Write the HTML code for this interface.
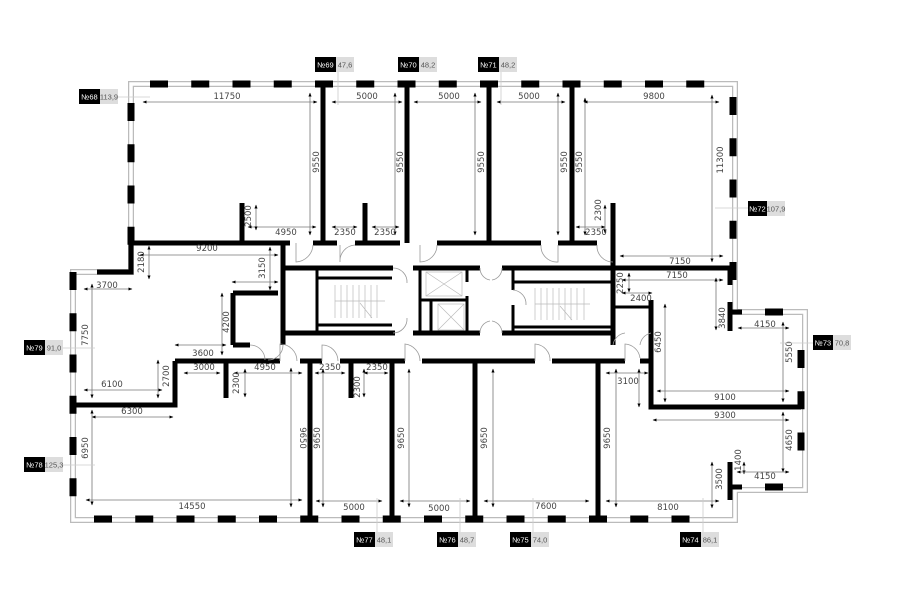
<!DOCTYPE html>
<html><head><meta charset="utf-8"><style>
html,body{margin:0;padding:0;background:#fff;width:900px;height:604px;overflow:hidden}
svg{display:block}
text{font-family:"DejaVu Sans","Liberation Sans",sans-serif;font-size:8.5px;fill:#444}
.d{stroke:#777;stroke-width:0.8;fill:none;marker-start:url(#a);marker-end:url(#a)}
.w{stroke:#000;stroke-width:5;fill:none}
.t{stroke:#000;stroke-width:3;fill:none}
.dr{stroke:#999;stroke-width:0.8;fill:none}
.win{stroke:#000;stroke-width:7;stroke-dasharray:18 23.25;fill:none}
.lb{fill:#000}
.lg{fill:#ddd}
.lt{fill:#fff;font-size:7.5px;font-family:"Liberation Sans",sans-serif}
.ln{font-size:7.5px;fill:#555;font-family:"Liberation Sans",sans-serif}
.ld{stroke:#ccc;stroke-width:0.8}
</style></head><body>
<svg width="900" height="604" viewBox="0 0 900 604" xmlns="http://www.w3.org/2000/svg">
<defs>
<marker id="a" viewBox="0 0 10 10" refX="9" refY="5" markerWidth="5" markerHeight="5" orient="auto-start-reverse"><path d="M0,1 L10,5 L0,9 z" fill="#000"/></marker>
</defs>
<rect width="900" height="604" fill="#fff"/>
<path d="M131,84 H735 V312 H805 V490 H735 V520 H73 V272 H131 Z" fill="none" stroke="#bbb" stroke-width="6"/>
<path d="M131,84 H735 V312 H805 V490 H735 V520 H73 V272 H131 Z" fill="none" stroke="#fff" stroke-width="3.5"/>
<line class="win" x1="150" y1="84" x2="712" y2="84"/>
<line class="win" x1="733" y1="97" x2="733" y2="285"/>
<line class="win" x1="131" y1="103" x2="131" y2="245"/>
<line class="win" x1="73" y1="272" x2="73" y2="500"/>
<line class="win" x1="94" y1="519" x2="700" y2="519"/>
<line class="win" x1="801" y1="350" x2="801" y2="455"/>
<line class="win" x1="765" y1="312" x2="785" y2="312"/>
<line class="win" x1="765" y1="487" x2="785" y2="487"/>
<g class="w">
<path d="M131,243 V272 H97"/>
<path d="M131,243 H290 M313,243 H337 M355,243 H400 M437,243 H541 M558,243 H597 M613,203 V262"/>
<path d="M323,84 V243 M407,84 V243 M489,84 V243 M572,84 V243 M242,203 V243 M365,203 V243"/>
<path d="M613,268 H730 M730,268 V285 M730,302 V331 M730,312 H742 M730,462 V500 M730,487 H742"/>
<path d="M283,243 V345 M233,293 H278 M233,293 V345 M233,345 H250"/>
<path d="M283,268 H393 M413,268 H480 M502,268 H612 M283,333 H395 M413,333 H480 M502,333 H612"/>
<path d="M613,262 V345"/>
<path d="M175,361 H280 M300,361 H322 M340,361 H405 M422,361 H535 M552,361 H625 M640,361 H651"/>
<path d="M175,361 V405 H73"/>
<path d="M310,361 V520 M392,361 V520 M475,361 V520 M598,361 V520 M226,361 V398 M351,361 V398"/>
<path d="M651,300 V407 H801"/>
</g>
<g class="t">
<path d="M317,268 V333 M317,278 H392 M317,325 H392"/>
<path d="M420,268 V333 M431,300 V333 M420,300 H467 M467,268 V282 M467,296 V333"/>
<path d="M513,268 V290 M513,305 V333 M513,282 H612 M513,327 H612"/>
<path d="M613,307 H651"/>
</g>
<g stroke="#bbb" stroke-width="0.7" fill="none">
<rect x="426" y="272" width="36" height="24"/><path d="M426,272 L462,296 M462,272 L426,296"/>
<rect x="438" y="304" width="26" height="26"/><path d="M438,304 L464,330 M464,304 L438,330"/>
<path d="M335,285 V318 M341,285 V318 M347,285 V318 M353,285 V318 M359,285 V318 M365,285 V318 M371,285 V318 M377,285 V318 M335,301 H385 M360,303 L372,318"/>
<path d="M535,288 V320 M541,288 V320 M547,288 V320 M553,288 V320 M559,288 V320 M565,288 V320 M571,288 V320 M577,288 V320 M584,288 V320 M535,304 H590 M560,306 L572,320"/>
</g>
<g class="dr">
<path d="M296,243 V262 A18,18 0 0 0 313,245"/>
<path d="M340,245 V262 A16,16 0 0 1 355,245"/>
<path d="M420,245 V262 A17,17 0 0 0 437,245"/>
<path d="M541,245 A16,16 0 0 0 558,262 V245"/>
<path d="M597,245 A16,16 0 0 0 613,262"/>
<path d="M393,268 A14,14 0 0 1 407,283"/>
<path d="M393,333 A14,14 0 0 0 407,318"/>
<path d="M480,268 A12,12 0 0 0 490,280 M502,268 A12,12 0 0 1 492,280"/>
<path d="M480,333 A12,12 0 0 1 490,321 M502,333 A12,12 0 0 0 492,321"/>
<path d="M513,290 A14,14 0 0 1 526,305"/>
<path d="M250,345 A15,15 0 0 1 265,360"/>
<path d="M283,345 A15,15 0 0 1 268,360"/>
<path d="M280,361 V344 A17,17 0 0 1 297,361"/>
<path d="M322,361 V345 A16,16 0 0 1 338,361"/>
<path d="M405,361 V344 A17,17 0 0 1 420,361"/>
<path d="M535,361 V344 A16,16 0 0 1 550,361"/>
<path d="M625,361 V344 A16,16 0 0 1 640,358"/>
<path d="M640,345 A14,14 0 0 1 651,333 M613,345 A14,14 0 0 1 625,333"/>
</g>
<g>
<line class="d" x1="143" y1="102" x2="317" y2="102"/><text x="227" y="99" text-anchor="middle">11750</text>
<line class="d" x1="310" y1="93" x2="310" y2="235"/><text transform="translate(319,162) rotate(-90)" text-anchor="middle">9550</text>
<line class="d" x1="332" y1="102" x2="402" y2="102"/><text x="367" y="99" text-anchor="middle">5000</text>
<line class="d" x1="395" y1="93" x2="395" y2="235"/><text transform="translate(403,162) rotate(-90)" text-anchor="middle">9550</text>
<line class="d" x1="414" y1="102" x2="481" y2="102"/><text x="449" y="99" text-anchor="middle">5000</text>
<line class="d" x1="475" y1="93" x2="475" y2="235"/><text transform="translate(484,162) rotate(-90)" text-anchor="middle">9550</text>
<line class="d" x1="497" y1="102" x2="565" y2="102"/><text x="529" y="99" text-anchor="middle">5000</text>
<line class="d" x1="558" y1="93" x2="558" y2="235"/><text transform="translate(567,162) rotate(-90)" text-anchor="middle">9550</text>
<line class="d" x1="585" y1="98" x2="585" y2="235"/><text transform="translate(582,162) rotate(-90)" text-anchor="middle">9550</text>
<line class="d" x1="584" y1="102" x2="719" y2="102"/><text x="654" y="99" text-anchor="middle">9800</text>
<line class="d" x1="712" y1="95" x2="712" y2="262"/><text transform="translate(723,160) rotate(-90)" text-anchor="middle">11300</text>
<line class="d" x1="620" y1="256" x2="723" y2="256"/><text x="680" y="264" text-anchor="middle">7150</text>
<line class="d" x1="622" y1="280" x2="723" y2="280"/><text x="677" y="278" text-anchor="middle">7150</text>
<line class="d" x1="629" y1="273" x2="629" y2="292"/><text transform="translate(623,283) rotate(-90)" text-anchor="middle">2250</text>
<line class="d" x1="622" y1="293" x2="652" y2="293"/><text x="641" y="301" text-anchor="middle">2400</text>
<line class="d" x1="716" y1="278" x2="716" y2="330"/><text transform="translate(725,318) rotate(-90)" text-anchor="middle">3840</text>
<line class="d" x1="248" y1="227" x2="316" y2="227"/><text x="286" y="235" text-anchor="middle">4950</text>
<line class="d" x1="256" y1="205" x2="256" y2="230"/><text transform="translate(251,216) rotate(-90)" text-anchor="middle">2500</text>
<line class="d" x1="332" y1="227" x2="357" y2="227"/><text x="345" y="235" text-anchor="middle">2350</text>
<line class="d" x1="372" y1="227" x2="399" y2="227"/><text x="385" y="235" text-anchor="middle">2350</text>
<line class="d" x1="605" y1="205" x2="605" y2="233"/><text transform="translate(601,210) rotate(-90)" text-anchor="middle">2300</text>
<line class="d" x1="576" y1="227" x2="605" y2="227"/><text x="596" y="235" text-anchor="middle">2350</text>
<line class="d" x1="140" y1="255" x2="278" y2="255"/><text x="207" y="251" text-anchor="middle">9200</text>
<line class="d" x1="149" y1="246" x2="149" y2="279"/><text transform="translate(144,262) rotate(-90)" text-anchor="middle">2180</text>
<line class="d" x1="270" y1="247" x2="270" y2="290"/><text transform="translate(265,268) rotate(-90)" text-anchor="middle">3150</text>
<line class="d" x1="232" y1="282" x2="278" y2="282"/>
<line class="d" x1="84" y1="289" x2="132" y2="289"/><text x="107" y="288" text-anchor="middle">3700</text>
<line class="d" x1="92" y1="284" x2="92" y2="398"/><text transform="translate(88,335) rotate(-90)" text-anchor="middle">7750</text>
<line class="d" x1="222" y1="293" x2="222" y2="355"/><text transform="translate(229,322) rotate(-90)" text-anchor="middle">4200</text>
<line class="d" x1="175" y1="345" x2="226" y2="345"/><text x="203" y="356" text-anchor="middle">3600</text>
<line class="d" x1="84" y1="390" x2="162" y2="390"/><text x="112" y="387" text-anchor="middle">6100</text>
<line class="d" x1="158" y1="360" x2="158" y2="398"/><text transform="translate(169,376) rotate(-90)" text-anchor="middle">2700</text>
<line class="d" x1="184" y1="373" x2="220" y2="373"/><text x="204" y="370" text-anchor="middle">3000</text>
<line class="d" x1="234" y1="373" x2="302" y2="373"/><text x="265" y="370" text-anchor="middle">4950</text>
<line class="d" x1="245" y1="369" x2="245" y2="397"/><text transform="translate(239,383) rotate(-90)" text-anchor="middle">2300</text>
<line class="d" x1="291" y1="368" x2="291" y2="507"/><text transform="translate(300,438) rotate(90)" text-anchor="middle">9650</text>
<line class="d" x1="315" y1="373" x2="345" y2="373"/><text x="330" y="370" text-anchor="middle">2350</text>
<line class="d" x1="364" y1="373" x2="388" y2="373"/><text x="377" y="370" text-anchor="middle">2350</text>
<line class="d" x1="364" y1="369" x2="364" y2="397"/><text transform="translate(360,387) rotate(-90)" text-anchor="middle">2300</text>
<line class="d" x1="323" y1="369" x2="323" y2="507"/><text transform="translate(320,438) rotate(-90)" text-anchor="middle">9650</text>
<line class="d" x1="409" y1="369" x2="409" y2="507"/><text transform="translate(404,438) rotate(-90)" text-anchor="middle">9650</text>
<line class="d" x1="493" y1="369" x2="493" y2="507"/><text transform="translate(487,438) rotate(-90)" text-anchor="middle">9650</text>
<line class="d" x1="616" y1="369" x2="616" y2="507"/><text transform="translate(610,438) rotate(-90)" text-anchor="middle">9650</text>
<line class="d" x1="92" y1="417" x2="173" y2="417"/><text x="132" y="414" text-anchor="middle">6300</text>
<line class="d" x1="92" y1="410" x2="92" y2="505"/><text transform="translate(88,448) rotate(-90)" text-anchor="middle">6950</text>
<line class="d" x1="86" y1="500" x2="302" y2="500"/><text x="192" y="509" text-anchor="middle">14550</text>
<line class="d" x1="316" y1="501" x2="382" y2="501"/><text x="354" y="510" text-anchor="middle">5000</text>
<line class="d" x1="400" y1="501" x2="470" y2="501"/><text x="439" y="511" text-anchor="middle">5000</text>
<line class="d" x1="484" y1="501" x2="589" y2="501"/><text x="546" y="509" text-anchor="middle">7600</text>
<line class="d" x1="606" y1="501" x2="719" y2="501"/><text x="668" y="510" text-anchor="middle">8100</text>
<line class="d" x1="712" y1="462" x2="712" y2="508"/><text transform="translate(722,479) rotate(-90)" text-anchor="middle">3500</text>
<line class="d" x1="606" y1="373" x2="648" y2="373"/><text x="628" y="384" text-anchor="middle">3100</text>
<line class="d" x1="639" y1="369" x2="639" y2="407"/>
<line class="d" x1="665" y1="304" x2="665" y2="402"/><text transform="translate(661,342) rotate(-90)" text-anchor="middle">6450</text>
<line class="d" x1="657" y1="391" x2="789" y2="391"/><text x="725" y="400" text-anchor="middle">9100</text>
<line class="d" x1="653" y1="420" x2="789" y2="420"/><text x="725" y="418" text-anchor="middle">9300</text>
<line class="d" x1="738" y1="328" x2="789" y2="328"/><text x="765" y="327" text-anchor="middle">4150</text>
<line class="d" x1="783" y1="322" x2="783" y2="402"/><text transform="translate(792,352) rotate(-90)" text-anchor="middle">5550</text>
<line class="d" x1="783" y1="412" x2="783" y2="472"/><text transform="translate(792,440) rotate(-90)" text-anchor="middle">4650</text>
<line class="d" x1="744" y1="462" x2="744" y2="474"/><text transform="translate(741,460) rotate(-90)" text-anchor="middle">1400</text>
<line class="d" x1="737" y1="472" x2="789" y2="472"/><text x="765" y="479" text-anchor="middle">4150</text>
</g>
<g>
<line class="ld" x1="117" y1="97" x2="150" y2="97"/>
<rect class="lb" x="79" y="89" width="21" height="15"/><rect class="lg" x="100" y="89" width="18" height="15"/><text class="lt" x="89.5" y="99.5" text-anchor="middle">№68</text><text class="ln" x="109" y="99.5" text-anchor="middle">113,9</text>
<line class="ld" x1="338" y1="71" x2="338" y2="105"/>
<rect class="lb" x="315" y="57" width="21" height="15"/><rect class="lg" x="336" y="57" width="18" height="15"/><text class="lt" x="325.5" y="67.5" text-anchor="middle">№69</text><text class="ln" x="345" y="67.5" text-anchor="middle">47,6</text>
<rect class="lb" x="398" y="57" width="21" height="15"/><rect class="lg" x="419" y="57" width="18" height="15"/><text class="lt" x="408.5" y="67.5" text-anchor="middle">№70</text><text class="ln" x="428" y="67.5" text-anchor="middle">48,2</text>
<line class="ld" x1="501" y1="71" x2="501" y2="105"/>
<rect class="lb" x="478" y="57" width="21" height="15"/><rect class="lg" x="499" y="57" width="18" height="15"/><text class="lt" x="488.5" y="67.5" text-anchor="middle">№71</text><text class="ln" x="508" y="67.5" text-anchor="middle">48,2</text>
<line class="ld" x1="715" y1="208" x2="748" y2="208"/>
<rect class="lb" x="748" y="201" width="19" height="15"/><rect class="lg" x="767" y="201" width="18" height="15"/><text class="lt" x="757.5" y="211.5" text-anchor="middle">№72</text><text class="ln" x="776" y="211.5" text-anchor="middle">107,9</text>
<line class="ld" x1="780" y1="343" x2="813" y2="343"/>
<rect class="lb" x="813" y="335" width="20" height="15"/><rect class="lg" x="833" y="335" width="18" height="15"/><text class="lt" x="823" y="345.5" text-anchor="middle">№73</text><text class="ln" x="842" y="345.5" text-anchor="middle">70,8</text>
<line class="ld" x1="62" y1="348" x2="95" y2="348"/>
<rect class="lb" x="24" y="340" width="21" height="15"/><rect class="lg" x="45" y="340" width="18" height="15"/><text class="lt" x="34.5" y="350.5" text-anchor="middle">№79</text><text class="ln" x="54" y="350.5" text-anchor="middle">91,0</text>
<line class="ld" x1="62" y1="465" x2="95" y2="465"/>
<rect class="lb" x="24" y="457" width="21" height="15"/><rect class="lg" x="45" y="457" width="18" height="15"/><text class="lt" x="34.5" y="467.5" text-anchor="middle">№78</text><text class="ln" x="54" y="467.5" text-anchor="middle">125,3</text>
<line class="ld" x1="377" y1="498" x2="377" y2="532"/>
<rect class="lb" x="354" y="532" width="21" height="15"/><rect class="lg" x="375" y="532" width="18" height="15"/><text class="lt" x="364.5" y="542.5" text-anchor="middle">№77</text><text class="ln" x="384" y="542.5" text-anchor="middle">48,1</text>
<line class="ld" x1="460" y1="498" x2="460" y2="532"/>
<rect class="lb" x="437" y="532" width="21" height="15"/><rect class="lg" x="458" y="532" width="18" height="15"/><text class="lt" x="447.5" y="542.5" text-anchor="middle">№76</text><text class="ln" x="467" y="542.5" text-anchor="middle">48,7</text>
<line class="ld" x1="533" y1="498" x2="533" y2="532"/>
<rect class="lb" x="510" y="532" width="21" height="15"/><rect class="lg" x="531" y="532" width="18" height="15"/><text class="lt" x="520.5" y="542.5" text-anchor="middle">№75</text><text class="ln" x="540" y="542.5" text-anchor="middle">74,0</text>
<line class="ld" x1="703" y1="498" x2="703" y2="532"/>
<rect class="lb" x="680" y="532" width="21" height="15"/><rect class="lg" x="701" y="532" width="18" height="15"/><text class="lt" x="690.5" y="542.5" text-anchor="middle">№74</text><text class="ln" x="710" y="542.5" text-anchor="middle">86,1</text>
</g>
</svg>
</body></html>
